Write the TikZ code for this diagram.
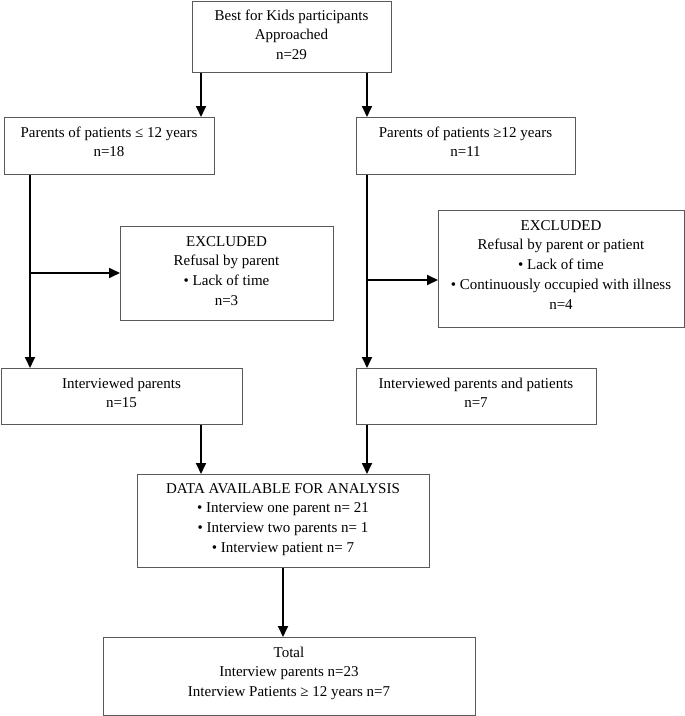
\documentclass[tikz,border=0pt]{standalone}
\usepackage{fontspec}
\setmainfont{Liberation Serif}
\usetikzlibrary{arrows.meta}
\begin{document}
\begin{tikzpicture}[x=1pt,y=-1pt,
  box/.style={draw=black!65,line width=0.9pt,rectangle,inner sep=0pt,anchor=north west},
  txt/.style={anchor=north,inner sep=0pt,align=center,font=\fontsize{15}{19.7}\selectfont},
  arr/.style={line width=1.8pt,-{Triangle[length=11pt,width=10pt]}},
  ln/.style={line width=1.8pt}]
\useasboundingbox (0,0) rectangle (685,716);
\newcommand{\bx}[5]{\node[box,minimum width=#4-#2,minimum height=#5-#3] (#1) at (#2,#3) {};}
\newcommand{\st}{\rule{0pt}{13pt}}
% boxes
\bx{top}{192}{1}{391}{72}
\bx{lone}{4}{117}{214}{174}
\bx{rone}{356}{117}{575}{174}
\bx{exl}{120}{226}{333}{320}
\bx{exr}{438}{210}{684}{327}
\bx{il}{1}{368}{242}{424}
\bx{ir}{356}{368}{596}{424}
\bx{data}{137}{474}{429}{567}
\bx{total}{103}{637}{475}{715}
% texts
\node[txt] (toptxt) at (291.5,7) {\st Best for Kids participants\\Approached\\n=29};
\node[txt] (lonetxt) at (109,124) {\st Parents of patients ≤ 12 years\\n=18};
\node[txt] (ronetxt) at (465.5,124) {\st Parents of patients ≥12 years\\n=11};
\node[txt] (exltxt) at (226.5,233) {\st EXCLUDED\\Refusal by parent\\• Lack of time\\n=3};
\node[txt] (exrtxt) at (561,217) {\st EXCLUDED\\Refusal by parent or patient\\• Lack of time\\• Continuously occupied with illness\\n=4};
\node[txt] (iltxt) at (121.5,375) {\st Interviewed parents\\n=15};
\node[txt] (irtxt) at (476,375) {\st Interviewed parents and patients\\n=7};
\node[txt] (datatxt) at (283,480) {\st DATA AVAILABLE FOR ANALYSIS\\• Interview one parent n= 21\\• Interview two parents n= 1\\• Interview patient n= 7};
\node[txt] (totaltxt) at (289,644) {\st Total\\Interview parents n=23\\Interview Patients ≥ 12 years n=7};
% helper coordinates
\coordinate (xa) at (201,0);
\coordinate (xb) at (367,0);
\coordinate (xc) at (30,0);
\coordinate (xd) at (283,0);
\coordinate (bl) at (30,273);
\coordinate (br) at (367,280);
% connectors
\draw[arr] (top.south -| xa) -- (lone.north -| xa);
\draw[arr] (top.south -| xb) -- (rone.north -| xb);
\draw[arr] (lone.south -| xc) -- (il.north -| xc);
\draw[arr] (bl) -- (exl.west |- bl);
\draw[arr] (rone.south -| xb) -- (ir.north -| xb);
\draw[arr] (br) -- (exr.west |- br);
\draw[arr] (il.south -| xa) -- (data.north -| xa);
\draw[arr] (ir.south -| xb) -- (data.north -| xb);
\draw[arr] (data.south -| xd) -- (total.north -| xd);
\end{tikzpicture}
\end{document}
